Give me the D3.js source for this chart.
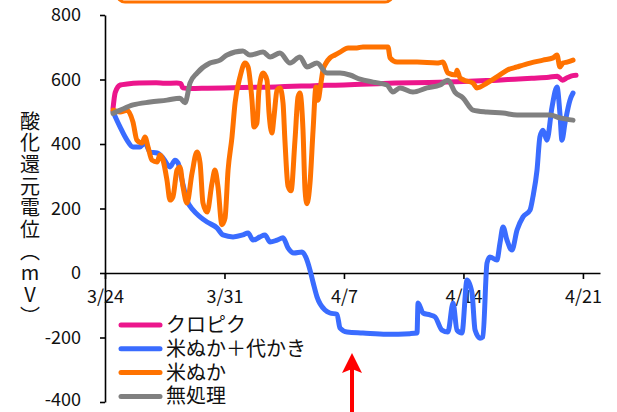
<!DOCTYPE html>
<html>
<head>
<meta charset="utf-8">
<script src="https://cdn.jsdelivr.net/npm/d3@7/dist/d3.min.js"></script>
<style>
  body { margin: 0; background: #fff; }
  svg { display: block; font-family: "Noto Sans CJK JP", sans-serif; }
</style>
</head>
<body>
<svg id="chart" width="617" height="412"></svg>
<script>
// days since 3/24, mV
var tickDays = [0, 7, 14, 21, 28];
var tickLabels = ["3/24", "3/31", "4/7", "4/14", "4/21"];
var yTicks = [800, 600, 400, 200, 0, -200, -400];
var seriesNames = ["クロピク", "米ぬか＋代かき", "米ぬか", "無処理"];
var seriesColors = ["#ec168c", "#3a6cff", "#ff7200", "#808080"];
var axisTitle = "酸化還元電位（mV）";

var kuropiku = [[0.47,510],[0.6,560],[0.9,583],[1.3,586],[2,589],[3,590],[3.5,588],[4.2,589],[4.45,587],[4.55,574],[5,572],[6,573],[7,574],[8,575],[9,576],[10,577],[11,579],[12,580],[13,582],[14,583],[15,585],[16,587],[17,589],[18,590],[19,591],[20,592],[21,594],[22,596],[23,598],[24,601],[25,604],[26,607],[26.5,610],[26.8,598],[27.1,606],[27.4,612],[27.6,613]];

var nukaShiro = [[0.47,500],[0.88,453],[1.29,412],[1.64,391],[2.05,391],[2.34,403],[2.64,375],[3.05,372],[3.4,357],[3.81,329],[4.1,350],[4.28,341],[4.51,288],[4.8,226],[5.16,195],[5.57,174],[5.98,158],[6.56,140],[6.91,118],[7.5,112],[8.08,118],[8.38,124],[8.67,102],[9.08,112],[9.37,118],[9.67,96],[10.08,102],[10.43,109],[10.72,78],[11.07,62],[11.54,65],[11.78,47],[12.01,9],[12.2,-31],[12.42,-74],[12.89,-115],[13.18,-124],[13.59,-128],[13.77,-171],[14.18,-183],[15.11,-186],[16.5,-190],[17.87,-188],[18.28,-186],[18.34,-93],[18.63,-124],[19.04,-130],[19.33,-136],[19.74,-177],[20.09,-183],[20.39,-93],[20.62,-177],[20.91,-186],[21.21,-22],[21.5,-62],[21.68,-177],[21.97,-202],[22.14,-198],[22.38,31],[22.55,50],[22.96,40],[23.14,93],[23.32,143],[23.55,102],[23.84,71],[24.14,133],[24.49,174],[24.9,195],[25.07,236],[25.31,319],[25.48,422],[25.66,443],[25.89,412],[26.19,515],[26.48,577],[26.65,496],[26.77,412],[26.95,465],[27.24,536],[27.42,558]];

var nuka = [[0.47,505],[0.88,499],[1.29,505],[1.64,468],[1.87,412],[2.17,403],[2.34,422],[2.52,391],[2.75,350],[3.05,344],[3.22,366],[3.4,350],[3.63,288],[3.81,226],[3.98,236],[4.22,319],[4.39,329],[4.57,267],[4.8,217],[5.1,310],[5.39,375],[5.57,341],[5.74,217],[5.98,189],[6.27,279],[6.44,319],[6.62,267],[6.85,150],[7.03,170],[7.21,319],[7.44,422],[7.62,527],[7.91,608],[8.2,651],[8.38,639],[8.61,536],[8.73,453],[8.9,465],[9.02,567],[9.26,620],[9.49,598],[9.61,496],[9.78,434],[9.9,484],[10.08,567],[10.25,574],[10.43,527],[10.54,412],[10.72,270],[10.9,255],[11.13,412],[11.31,546],[11.42,558],[11.6,443],[11.72,257],[11.83,215],[12.01,279],[12.19,443],[12.36,577],[12.48,536],[12.65,589],[12.77,629],[12.95,651],[13.18,667],[13.47,676],[13.77,685],[14.24,698],[14.76,698],[15.11,701],[16.58,701],[16.7,667],[17.11,654],[18.28,654],[19.45,651],[19.8,654],[20.09,620],[20.56,614],[20.62,629],[20.8,605],[21.03,598],[21.56,589],[21.79,574],[22.38,589],[22.96,608],[23.55,629],[24.14,639],[24.9,651],[25.66,660],[26.25,667],[26.48,676],[26.65,639],[26.83,651],[27.07,654],[27.42,660]];

var muShori = [[0.47,495],[0.9,505],[1.64,521],[2.64,530],[3.63,536],[4.39,542],[4.69,528],[4.98,589],[5.39,620],[6.15,651],[6.74,660],[7.15,676],[8.08,688],[8.49,676],[9.26,685],[9.67,670],[10.25,682],[10.84,651],[11.42,670],[11.83,639],[12.42,651],[13.01,620],[13.77,620],[14.35,614],[14.94,601],[15.7,592],[16.52,583],[16.87,561],[17.28,574],[18.04,561],[18.86,574],[19.63,583],[20.09,598],[20.5,561],[20.97,543],[21.56,505],[22.38,499],[23.32,496],[24.14,490],[25.31,490],[26.07,490],[26.65,481],[27.42,474]];

var allSeries = [kuropiku, nukaShiro, nuka, muShori];

var svg = d3.select("#chart");

var x = d3.scaleLinear().domain([0, 29]).range([105, 600]);
var y = d3.scaleLinear().domain([-400, 800]).range([402, 15]);

// orange box cut off at the top
svg.append("rect")
    .attr("x", 117).attr("y", -24)
    .attr("width", 276).attr("height", 26)
    .attr("rx", 8).attr("ry", 8)
    .attr("fill", "none")
    .attr("stroke", "#ff7200")
    .attr("stroke-width", 3);

var line = d3.line()
    .x(function(d) { return x(d[0]); })
    .y(function(d) { return y(d[1]); })
    .curve(d3.curveMonotoneX);

// axes
var yAxis = svg.append("g")
    .attr("transform", "translate(" + x(0) + ",0)")
    .call(d3.axisLeft(y).tickValues(yTicks).tickSize(5).tickSizeOuter(0).tickPadding(19)
        .tickFormat(function(d) { return String(d); }));

var xAxis = svg.append("g")
    .attr("transform", "translate(0," + y(0) + ")")
    .call(d3.axisBottom(x).tickValues(tickDays).tickSize(6).tickSizeOuter(0).tickPadding(11)
        .tickFormat(function(d, i) { return tickLabels[i]; }));

svg.selectAll(".domain, .tick line")
    .attr("stroke", "#000")
    .attr("stroke-width", 1.6);
svg.selectAll(".tick text")
    .attr("fill", "#111")
    .style("font-size", "18px")
    .style("font-family", "'Noto Sans CJK JP', sans-serif");
// last label sits against the bottom edge
yAxis.selectAll(".tick text").filter(function(d) { return d === -400; }).attr("dy", "0.2em");

svg.selectAll(".series")
    .data(allSeries)
    .enter().append("path")
    .attr("class", "series")
    .attr("d", line)
    .attr("fill", "none")
    .attr("stroke", function(d, i) { return seriesColors[i]; })
    .attr("stroke-width", 5)
    .attr("stroke-linejoin", "round")
    .attr("stroke-linecap", "round");

// vertical axis title, one text element
svg.append("text")
    .attr("x", 30)
    .attr("y", 111)
    .style("writing-mode", "vertical-rl")
    .style("text-orientation", "upright")
    .style("font-size", "20px")
    .style("letter-spacing", "1.7px")
    .attr("fill", "#111")
    .text(axisTitle);

// legend: swatches + one text block with a line per series
var legY = function(i) { return 325 + i * 23.8; };
svg.selectAll(".legline")
    .data(seriesNames)
    .enter().append("line")
    .attr("class", "legline")
    .attr("x1", 121).attr("x2", 160)
    .attr("y1", function(d, i) { return legY(i); })
    .attr("y2", function(d, i) { return legY(i); })
    .attr("stroke", function(d, i) { return seriesColors[i]; })
    .attr("stroke-width", 5)
    .attr("stroke-linecap", "round");
svg.append("text")
    .style("font-size", "20px")
    .attr("fill", "#111")
    .selectAll("tspan")
    .data(seriesNames)
    .enter().append("tspan")
    .attr("x", 166)
    .attr("y", function(d, i) { return legY(i) + 7; })
    .text(function(d) { return d; });

// red arrow
svg.append("line")
    .attr("x1", 352).attr("x2", 352)
    .attr("y1", 368).attr("y2", 415)
    .attr("stroke", "#ff0000")
    .attr("stroke-width", 4);
svg.append("path")
    .attr("d", "M352,353 L362,373 L352,369 L342,373 Z")
    .attr("fill", "#ff0000");
</script>
</body>
</html>
